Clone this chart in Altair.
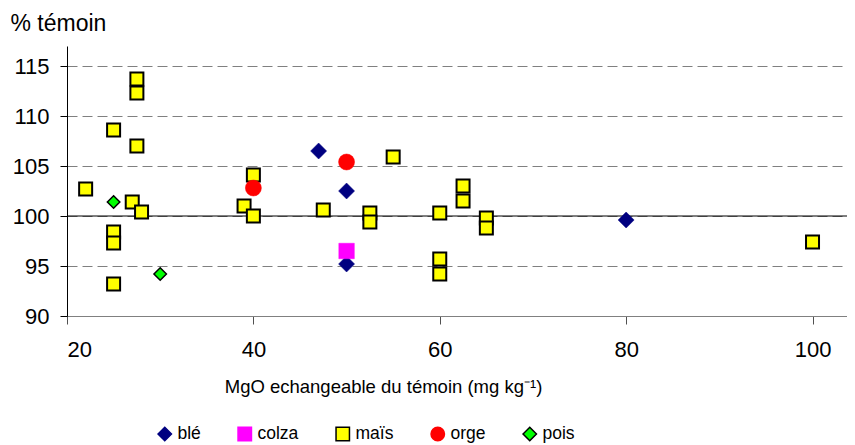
import altair as alt
import pandas as pd

cultures = ["blé", "colza", "maïs", "orge", "pois"]

ble_x = [47, 50, 50, 80]
ble_y = [106.5, 102.5, 95.2, 99.6]
colza_x = [50]
colza_y = [96.5]
mais_x = [22, 25, 25, 25, 25, 27.5, 27.5, 27.5, 27, 28, 39, 40, 40, 47.5, 52.5, 52.5,
          55, 60, 60, 60, 62.5, 62.5, 65, 65, 100]
mais_y = [102.7, 108.6, 98.4, 97.3, 93.2, 113.7, 112.3, 107.0, 101.4, 100.4, 101.0, 100.0,
          104.1, 100.6, 100.3, 99.4, 105.9, 100.3, 95.7, 94.2, 103.0, 101.5, 99.8, 98.8, 97.4]
orge_x = [40, 50]
orge_y = [102.8, 105.4]
pois_x = [25, 30]
pois_y = [101.4, 94.2]

x_ticks = [20, 40, 60, 80, 100]
y_ticks = [90, 95, 100, 105, 110, 115]

# marker style per culture (size area, stroke width)
marker_size = {"blé": 256, "colza": 240, "maïs": 169, "orge": 256, "pois": 156}
marker_sw = {"blé": 0.5, "colza": 0.5, "maïs": 2, "orge": 0.5, "pois": 1.5}

rows = []
for name, xs, ys in [("blé", ble_x, ble_y), ("colza", colza_x, colza_y),
                     ("maïs", mais_x, mais_y), ("orge", orge_x, orge_y),
                     ("pois", pois_x, pois_y)]:
    for xv, yv in zip(xs, ys):
        rows.append({"culture": name, "mgo": xv, "pct": yv})
df = pd.DataFrame(rows)
df["order"] = df["culture"].map({c: i for i, c in enumerate(cultures)})
df["msize"] = df["culture"].map(marker_size)
df["msw"] = df["culture"].map(marker_sw)

FONT = "Liberation Sans"

xscale = alt.Scale(domain=[20, 103.7], nice=False, zero=False)
yscale = alt.Scale(domain=[90, 117], nice=False, zero=False)

ref = alt.Chart(pd.DataFrame({"y": [100]})).mark_rule(color="black", strokeWidth=1).encode(
    y=alt.Y("y:Q", scale=yscale)
)

legend = alt.Legend(
    title=None, orient="none", legendX=89, legendY=379, direction="horizontal",
    columns=5, columnPadding=34, labelFontSize=17.5, labelFont=FONT, labelColor="black",
    labelOffset=4, padding=0, symbolOpacity=1, symbolSize=180, symbolStrokeWidth=1.5,
)

points = alt.Chart(df).mark_point(filled=True, opacity=1).encode(
    x=alt.X("mgo:Q", scale=xscale, axis=alt.Axis(
        values=x_ticks, grid=False, domainColor="#808080", tickColor="#505050",
        tickSize=8, labelFontSize=22, labelFont=FONT, labelColor="black", labelPadding=15,
        title="MgO echangeable du témoin (mg kg⁻¹)", titleFont=FONT, titleFontSize=18.5,
        titleFontWeight="normal", titleColor="black", titleX=316, titleY=70,
        titleAlign="center", titleBaseline="middle",
    )),
    y=alt.Y("pct:Q", scale=yscale, axis=alt.Axis(
        values=y_ticks, grid=True, gridColor="#808080", gridDash=[10, 5], gridWidth=1,
        domainColor="black", tickColor="black", tickSize=7, labelFontSize=22,
        labelFont=FONT, labelColor="black", labelPadding=11,
        title="% témoin", titleFont=FONT, titleFontSize=23, titleFontWeight="normal",
        titleColor="black", titleAngle=0, titleX=-57, titleY=-16, titleAlign="left",
        titleBaseline="alphabetic",
    )),
    fill=alt.Fill("culture:N", scale=alt.Scale(
        domain=cultures, range=["#000080", "#FF00FF", "#FFFF00", "#FF0000", "#00FF00"]),
        legend=legend),
    stroke=alt.Stroke("culture:N", scale=alt.Scale(
        domain=cultures, range=["#000080", "#FF00FF", "#000000", "#FF0000", "#000000"]),
        legend=legend),
    shape=alt.Shape("culture:N", scale=alt.Scale(
        domain=cultures, range=["diamond", "square", "square", "circle", "diamond"]),
        legend=legend),
    size=alt.Size("msize:Q", scale=None, legend=None),
    strokeWidth=alt.StrokeWidth("msw:Q", scale=None, legend=None),
    order=alt.Order("order:Q"),
)

chart = alt.layer(ref, points).properties(
    width=780, height=270,
    autosize=alt.AutoSizeParams(type="none"),
    padding={"left": 59, "top": 38, "right": 0, "bottom": 128},
    background="white",
).configure_view(stroke=None)

chart.save("out.html", embed_options={"renderer": "svg", "actions": False})
